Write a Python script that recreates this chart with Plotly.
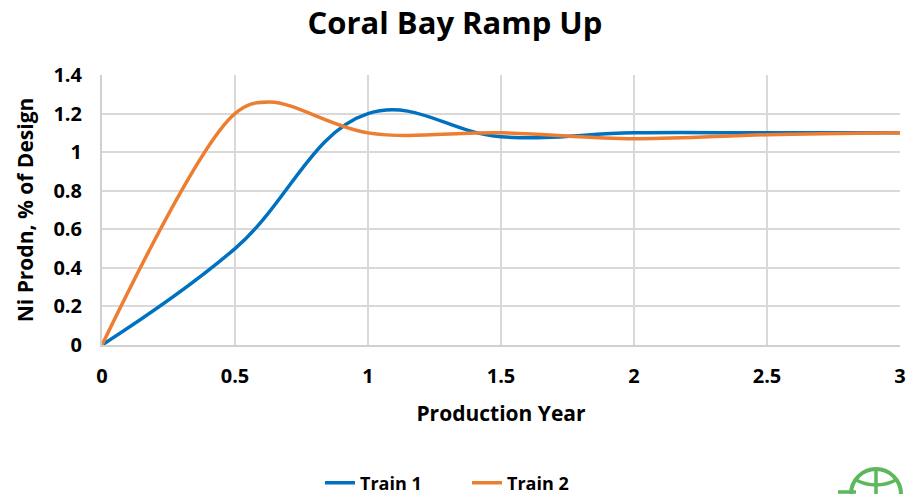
import plotly.graph_objects as go

years1 = [0, 0.5, 1, 1.5, 2, 2.5, 3]
train1 = [0, 0.5, 1.2, 1.08, 1.1, 1.1, 1.1]
years2 = [0, 0.5, 0.63, 1, 1.5, 2, 2.5, 3]
train2 = [0, 1.2, 1.26, 1.1, 1.1, 1.07, 1.09, 1.1]
x_ticks = [0, 0.5, 1, 1.5, 2, 2.5, 3]
x_tick_labels = ["0", "0.5", "1", "1.5", "2", "2.5", "3"]
y_ticks = [0, 0.2, 0.4, 0.6, 0.8, 1.0, 1.2, 1.4]
y_tick_labels = ["0", "0.2", "0.4", "0.6", "0.8", "1", "1.2", "1.4"]

FONT = "Open Sans"
W, H = 908, 494
L, T = 102, 75
R = W - 900
B = H - 345
pw, ph = W - L - R, H - T - B

def px(x):
    return (x - L) / pw

def py(y):
    return (H - B - y) / ph

fig = go.Figure()
fig.add_trace(go.Scatter(x=years1, y=train1, name="<b>Train 1</b>", mode="lines",
                         line=dict(color="#0070C0", width=3.5, shape="spline", smoothing=1.15)))
fig.add_trace(go.Scatter(x=years2, y=train2, name="<b>Train 2</b>", mode="lines",
                         line=dict(color="#ED7D31", width=3.5, shape="spline", smoothing=1.0)))

fig.update_layout(
    width=W, height=H,
    margin=dict(l=L, r=R, t=T, b=B, autoexpand=False),
    paper_bgcolor="white", plot_bgcolor="white",
    font=dict(family=FONT, color="black"),
    title=dict(text="<b>Coral Bay Ramp Up</b>", x=px(455), xanchor="center", xref="paper",
               y=1 - 23 / H, yanchor="middle",
               font=dict(size=31, family=FONT, color="black")),
    xaxis=dict(range=[0, 3], tickvals=x_ticks, ticktext=[f"<b>{t}</b>" for t in x_tick_labels],
               showgrid=True, gridcolor="#D9D9D9", gridwidth=2, zeroline=False, automargin=False,
               showline=True, linecolor="#D0D0D0", linewidth=2, ticks="",
               ticklabelstandoff=12,
               tickfont=dict(size=20, family=FONT, color="black"),
               title=dict(text="<b>Production Year</b>", font=dict(size=21, family=FONT), standoff=18)),
    yaxis=dict(range=[0, 1.4], tickvals=y_ticks, ticktext=[f"<b>{t}</b>" for t in y_tick_labels],
               showgrid=True, gridcolor="#D9D9D9", gridwidth=2, zeroline=False, automargin=False,
               showline=True, linecolor="#D0D0D0", linewidth=2, ticks="",
               ticklabelstandoff=14,
               tickfont=dict(size=20, family=FONT, color="black"),
               title=dict(text="<b>Ni Prodn, % of Design</b>", font=dict(size=21, family=FONT), standoff=14)),
    legend=dict(orientation="h", x=px(320), xanchor="left", y=py(483), yanchor="middle",
                font=dict(size=18, family=FONT, color="black"),
                entrywidth=102, entrywidthmode="pixels",
                bgcolor="rgba(0,0,0,0)"),
    showlegend=True,
)

# decorative partial logo at bottom right
G = "#5CB85C"
fig.add_shape(type="circle", xref="paper", yref="paper",
              x0=px(851), x1=px(901), y0=py(519), y1=py(469),
              line=dict(color=G, width=4))
fig.add_shape(type="line", xref="paper", yref="paper",
              x0=px(876), x1=px(876), y0=py(494), y1=py(469),
              line=dict(color=G, width=3.5))
fig.add_shape(type="path", xref="paper", yref="paper",
              path=f"M {px(856)},{py(480)} Q {px(876)},{py(490)} {px(896)},{py(480)}",
              line=dict(color=G, width=3.5))
fig.add_shape(type="line", xref="paper", yref="paper",
              x0=px(838), x1=px(856), y0=py(492), y1=py(492),
              line=dict(color=G, width=3.5))

fig.write_html("out.html", config={"displayModeBar": False},
               post_script="document.body.style.margin='0px';")
